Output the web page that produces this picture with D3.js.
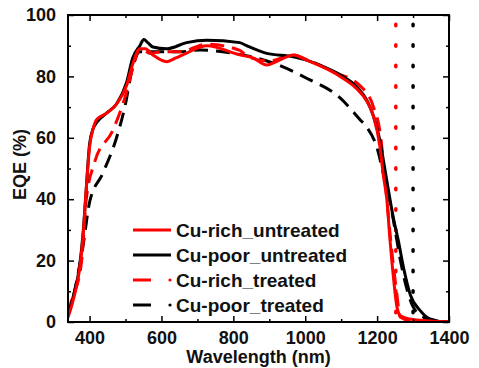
<!DOCTYPE html>
<html>
<head>
<meta charset="utf-8">
<script src="https://cdn.jsdelivr.net/npm/d3@7"></script>
<style>
  body { margin: 0; background: #fff; }
  text { font-family: "Liberation Sans", Arial, sans-serif; font-weight: bold; }
</style>
</head>
<body>
<svg width="479" height="368"></svg>
<script>
// data: [wavelength nm, EQE %]
var cuRichUntreated = [[340,1.5],[354,7],[372,17],[382,28],[390,42],[400,57],[410,63],[420,66],[447,68],[475,71],[503,77],[520,84],[540,89],[555,89],[576,87],[615,84.8],[640,86],[670,87.6],[726,90],[818,87],[855,86],[893,83.7],[920,84.8],[967,87],[1004,85.3],[1050,83],[1097,80],[1143,76],[1171,72],[1190,67],[1208,57],[1217,48],[1227,40],[1235,28],[1245,15],[1255,5],[1265,2],[1290,1],[1400,0]];
var cuPoorUntreated = [[340,2],[354,8],[372,18],[382,29],[390,42],[400,58],[410,63],[420,65],[447,68],[475,71],[503,78],[520,86],[540,90],[551,92],[562,91],[576,89.6],[615,89],[670,91],[726,91.8],[818,91],[837,90],[893,87.5],[967,86.4],[1004,85.3],[1050,83.2],[1097,80.5],[1143,76.6],[1171,72.3],[1190,67],[1208,59],[1217,53],[1227,46],[1245,34],[1259,26.5],[1273,18],[1292,9],[1320,3.7],[1347,1],[1394,0],[1400,0]];
var cuRichTreated = [[340,3],[350,7],[377,19],[391,40],[414,52],[465,62.5],[498,73],[526,85],[540,89.5],[568,87.5],[600,88],[650,88],[726,90.5],[818,88.5],[840,86.5],[900,85],[967,87],[1004,85.5],[1078,81.5],[1152,77],[1190,70],[1208,62],[1227,40],[1241,23],[1255,9],[1264,1.6],[1290,0.5],[1400,0]];
var cuPoorTreated = [[340,2],[350,6],[382,25],[400,39],[437,48.5],[475,60],[498,70],[520,83],[540,88],[576,88],[650,88],[707,88.6],[800,87.5],[910,84.4],[1004,79.4],[1097,73],[1152,66],[1171,63.5],[1199,57],[1220,47],[1241,36],[1250,30],[1265,20],[1280,12],[1300,5],[1330,1.5],[1360,0.3],[1400,0]];
var bandEdges = [1252, 1300]; // dotted verticals (red, black)
var xTicks = [400, 600, 800, 1000, 1200, 1400];
var xMinor = [500, 700, 900, 1100, 1300];
var yTicks = [0, 20, 40, 60, 80, 100];
var yMinor = [10, 30, 50, 70, 90];
var legendNames = ["Cu-rich_untreated", "Cu-poor_untreated", "Cu-rich_treated", "Cu-poor_treated"];

var svg = d3.select("svg"),
    margin = { top: 15, right: 30, bottom: 46, left: 68 },
    width = +svg.attr("width") - margin.left - margin.right,
    height = +svg.attr("height") - margin.top - margin.bottom;

var x = d3.scaleLinear().domain([340, 1400]).range([0, width]),
    y = d3.scaleLinear().domain([0, 100]).range([height, 0]);

var g = svg.append("g").attr("transform", "translate(" + margin.left + "," + margin.top + ")");

g.append("clipPath").attr("id", "clip")
    .append("rect").attr("width", width).attr("height", height);

var line = d3.line()
    .x(function (d) { return x(d[0]); })
    .y(function (d) { return y(d[1]); })
    .curve(d3.curveMonotoneX);

var series = [
    { data: cuPoorTreated, color: "#000", dash: "14 8" },
    { data: cuRichTreated, color: "#ff0000", dash: "14 8" },
    { data: cuPoorUntreated, color: "#000", dash: null },
    { data: cuRichUntreated, color: "#ff0000", dash: null }
];

var plot = g.append("g").attr("clip-path", "url(#clip)");

// dotted band-edge lines
plot.selectAll(".edge")
    .data(bandEdges)
    .enter().append("line")
    .attr("x1", function (d) { return x(d); })
    .attr("x2", function (d) { return x(d); })
    .attr("y1", y(97))
    .attr("y2", y(0))
    .attr("stroke", function (d, i) { return i === 0 ? "#ff0000" : "#000"; })
    .attr("stroke-width", 3.5)
    .attr("stroke-linecap", "round")
    .attr("stroke-dasharray", "1.5 19");

plot.selectAll(".curve")
    .data(series)
    .enter().append("path")
    .attr("d", function (d) { return line(d.data); })
    .attr("fill", "none")
    .attr("stroke", function (d) { return d.color; })
    .attr("stroke-width", 3)
    .attr("stroke-dasharray", function (d) { return d.dash; });

// axes: bottom / left with labels, top / right mirrored, ticks pointing inward
function styleAxis(sel) {
    sel.select(".domain").remove();
    sel.selectAll(".tick line").attr("stroke", "#000").attr("stroke-width", 1.5);
    sel.selectAll("text").attr("font-size", 18).attr("fill", "#111");
}
var fmt = d3.format("d");

g.append("g").attr("transform", "translate(0," + height + ")")
    .call(d3.axisBottom(x).tickValues(xTicks).tickFormat(fmt).tickSizeInner(-6).tickSizeOuter(0).tickPadding(9))
    .call(styleAxis);
g.append("g").attr("transform", "translate(0," + height + ")")
    .call(d3.axisBottom(x).tickValues(xMinor).tickSizeInner(-3).tickFormat(""))
    .call(styleAxis);
g.append("g")
    .call(d3.axisTop(x).tickValues(xTicks).tickSizeInner(-6).tickFormat(""))
    .call(styleAxis);
g.append("g")
    .call(d3.axisTop(x).tickValues(xMinor).tickSizeInner(-3).tickFormat(""))
    .call(styleAxis);

g.append("g")
    .call(d3.axisLeft(y).tickValues(yTicks).tickFormat(fmt).tickSizeInner(-6).tickPadding(12))
    .call(styleAxis);
g.append("g")
    .call(d3.axisLeft(y).tickValues(yMinor).tickSizeInner(-3).tickFormat(""))
    .call(styleAxis);
g.append("g").attr("transform", "translate(" + width + ",0)")
    .call(d3.axisRight(y).tickValues(yTicks).tickSizeInner(-6).tickFormat(""))
    .call(styleAxis);
g.append("g").attr("transform", "translate(" + width + ",0)")
    .call(d3.axisRight(y).tickValues(yMinor).tickSizeInner(-3).tickFormat(""))
    .call(styleAxis);

g.append("rect")
    .attr("width", width).attr("height", height)
    .attr("fill", "none").attr("stroke", "#000").attr("stroke-width", 2);

// axis titles
g.append("text")
    .attr("x", width / 2).attr("y", height + 41)
    .attr("text-anchor", "middle").attr("font-size", 18).attr("fill", "#111")
    .text("Wavelength (nm)");
g.append("text")
    .attr("transform", "translate(-42," + (height / 2 - 4) + ") rotate(-90)")
    .attr("text-anchor", "middle").attr("font-size", 18).attr("fill", "#111")
    .text("EQE (%)");

// legend
var legend = g.append("g").attr("transform", "translate(65,215)");
var legendStyles = [
    { color: "#ff0000", dashed: false },
    { color: "#000", dashed: false },
    { color: "#ff0000", dashed: true },
    { color: "#000", dashed: true }
];
var rows = legend.selectAll(".row")
    .data(legendNames)
    .enter().append("g")
    .attr("transform", function (d, i) { return "translate(0," + i * 25 + ")"; });

rows.append("line")
    .attr("x1", 0)
    .attr("x2", function (d, i) { return legendStyles[i].dashed ? 18 : 38; })
    .attr("stroke", function (d, i) { return legendStyles[i].color; })
    .attr("stroke-width", 3);
rows.filter(function (d, i) { return legendStyles[i].dashed; })
    .append("circle")
    .attr("cx", 37).attr("cy", 0).attr("r", 1.6)
    .attr("fill", function (d, i) { return legendStyles[i + 2].color; });
rows.append("text")
    .attr("x", 43).attr("dy", "0.35em")
    .attr("font-size", 19).attr("fill", "#111")
    .text(function (d) { return d; });
</script>
</body>
</html>
